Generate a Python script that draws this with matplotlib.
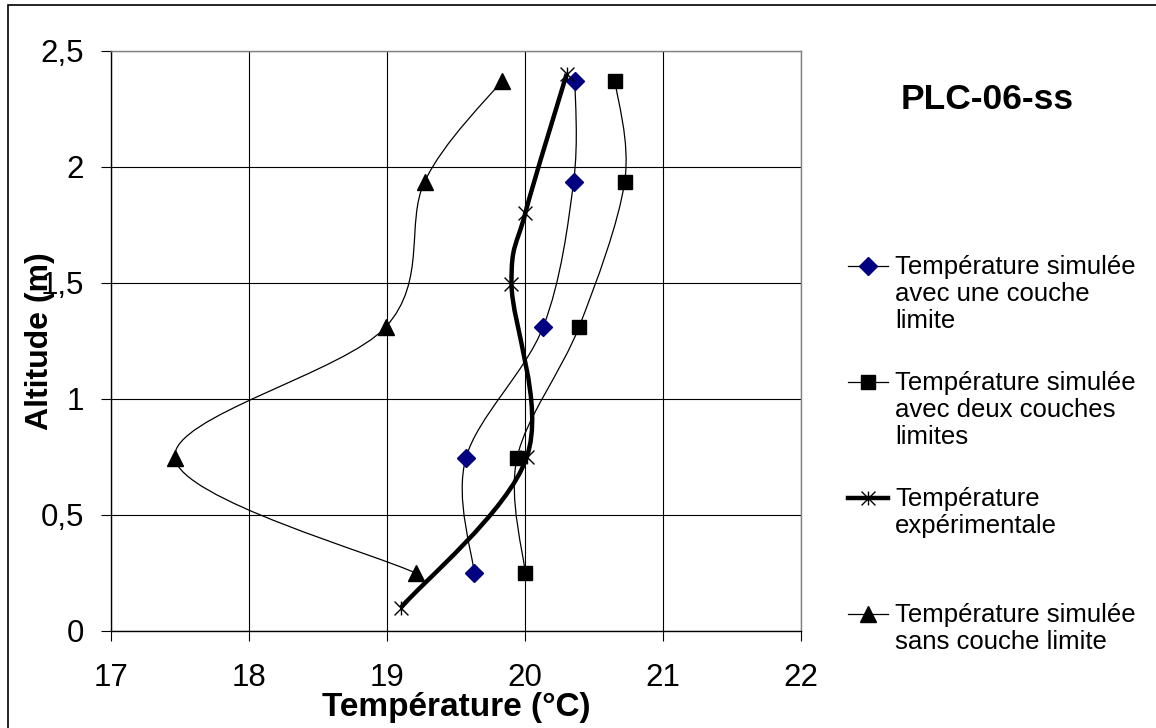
import matplotlib
matplotlib.use("Agg")
import matplotlib.pyplot as plt
from matplotlib.path import Path
from matplotlib.patches import PathPatch, Rectangle
from matplotlib.lines import Line2D

plt.rcParams['font.family'] = ['Liberation Sans', 'DejaVu Sans']

# altitudes (m) des points simulés et mesurés
alt_sim = [2.37, 1.935, 1.31, 0.745, 0.247]
alt_exp = [2.40, 1.80, 1.495, 0.747, 0.10]

# températures (°C)
t_une_couche = [20.36, 20.35, 20.13, 19.57, 19.63]
t_deux_couches = [20.65, 20.72, 20.39, 19.94, 20.00]
t_experimentale = [20.30, 20.00, 19.90, 20.01, 19.10]
t_sans_couche = [19.83, 19.27, 18.99, 17.46, 19.21]

x_ticks = [17, 18, 19, 20, 21, 22]
y_ticks = [0, 0.5, 1, 1.5, 2, 2.5]
y_tick_labels = ['0', '0,5', '1', '1,5', '2', '2,5']

labels = ['Température simulée\navec une couche\nlimite',
          'Température simulée\navec deux couches\nlimites',
          'Température\nexpérimentale',
          'Température simulée\nsans couche limite']

# marqueur étoile façon Excel : X + trait vertical
star = Path([(-1, -1), (1, 1), (-1, 1), (1, -1), (0, -1), (0, 1)],
            [Path.MOVETO, Path.LINETO, Path.MOVETO, Path.LINETO, Path.MOVETO, Path.LINETO])


def smooth_path(xs, ys):
    # courbe lissée (Bézier type Catmull-Rom) passant par les points
    pts = list(zip(xs, ys))
    n = len(pts)
    verts = [pts[0]]
    codes = [Path.MOVETO]
    for i in range(n - 1):
        p0 = pts[i - 1] if i > 0 else pts[i]
        p1 = pts[i]
        p2 = pts[i + 1]
        p3 = pts[i + 2] if i + 2 < n else pts[i + 1]
        c1 = (p1[0] + (p2[0] - p0[0]) / 6, p1[1] + (p2[1] - p0[1]) / 6)
        c2 = (p2[0] - (p3[0] - p1[0]) / 6, p2[1] - (p3[1] - p1[1]) / 6)
        verts += [c1, c2, p2]
        codes += [Path.CURVE4] * 3
    return Path(verts, codes)


W, H = 1156, 728
fig = plt.figure(figsize=(W / 100, H / 100), dpi=100)
ax = fig.add_axes([111.3 / W, 1 - 630.7 / H, 690 / W, 580 / H])

series = [
    (t_une_couche, alt_sim, 0.9, dict(marker='D', color='#000080', ms=9.5)),
    (t_deux_couches, alt_sim, 0.9, dict(marker='s', color='black', ms=10.5)),
    (t_experimentale, alt_exp, 3.2, dict(marker=star, color='black', ms=10, mew=1)),
    (t_sans_couche, alt_sim, 0.9, dict(marker='^', color='black', ms=12)),
]

for xs, ys, lw, mk in series:
    ax.add_patch(PathPatch(smooth_path(xs, ys), facecolor='none', edgecolor='black',
                           lw=lw, zorder=3, capstyle='butt'))
    ax.plot(xs, ys, ls='none', zorder=4, **mk)

ax.set_xlim(17, 22)
ax.set_ylim(0, 2.5)
ax.set_xticks(x_ticks)
ax.set_yticks(y_ticks)
ax.set_yticklabels(y_tick_labels)
ax.grid(True, color='black', lw=0.8)
ax.set_axisbelow(True)
ax.tick_params(direction='out', length=7.5, width=0.8, labelsize=22.5, color='black')
ax.tick_params(axis='x', pad=16)
ax.tick_params(axis='y', pad=12)

for side in ['left', 'bottom']:
    ax.spines[side].set_color('black')
for side in ['top', 'right']:
    ax.spines[side].set_color('#808080')
for sp in ax.spines.values():
    sp.set_linewidth(1.0)

ax.set_xlabel('Température (°C)', fontsize=24, fontweight='bold')
ax.set_ylabel('Altitude (m)', fontsize=23, fontweight='bold')
ax.xaxis.set_label_coords(0.5, (630.7 - 692) / 580)
ax.yaxis.set_label_coords((55 - 111.3) / 690, 0.5)

fig.text(987 / W, 1 - 109 / H, 'PLC-06-ss', fontsize=25.5, fontweight='bold',
         ha='center', va='baseline')

# légende dessinée à droite
for i, (lab, (xs, ys, lw, mk)) in enumerate(zip(labels, series)):
    yl = 265.7 + i * 116
    fig.add_artist(Line2D([848 / W, 888 / W], [1 - yl / H] * 2, color='black',
                          lw=lw, transform=fig.transFigure))
    fig.add_artist(Line2D([868 / W], [1 - yl / H], ls='none',
                          transform=fig.transFigure, **mk))
    fig.text(895 / W, 1 - (yl - 11) / H, lab, fontsize=18.5, ha='left',
             va='top', linespacing=1.16)

# cadre du graphique
fig.add_artist(Rectangle((8 / W, -0.05), 1.2, 1 - 4.7 / H + 0.05, fill=False,
                         ec='black', lw=1.2, transform=fig.transFigure))

fig.savefig('out.png', dpi=100)
